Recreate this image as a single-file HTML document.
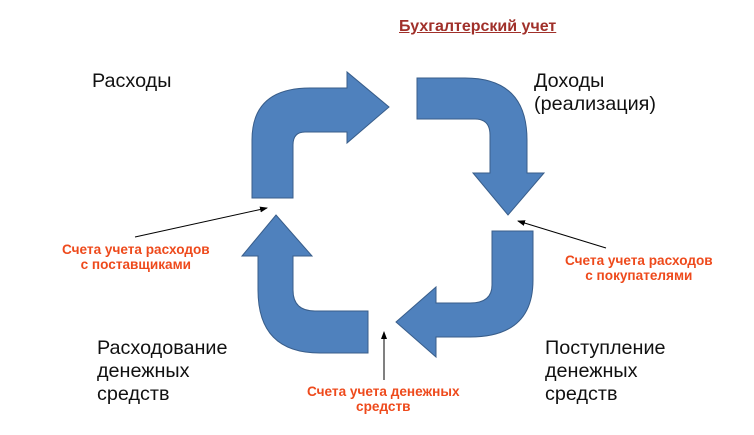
<!DOCTYPE html>
<html><head><meta charset="utf-8"><style>
body{margin:0;background:#fff;width:754px;height:435px;overflow:hidden;font-family:"Liberation Sans",sans-serif}
.t{position:absolute;font-size:19.8px;color:#111;line-height:23px}
.r{position:absolute;color:#ee4a1c;font-weight:bold;font-size:13.6px;line-height:15px;text-align:center;white-space:nowrap}
</style></head><body>
<svg width="754" height="435" style="position:absolute;left:0;top:0">
<defs><marker id="a" markerWidth="8" markerHeight="6" refX="7" refY="3" orient="auto"><path d="M0,0L8,3L0,6Z" fill="#000"/></marker></defs>
<g fill="#4f81bd" stroke="#385d8a" stroke-width="1">
<path d="M252,198 L252,140 Q252,88 310,88 L347,88 L347,72 L389,107 L347,143 L347,132 L305,132 Q293,132 293,145 L293,198 Z"/>
<path d="M417,78 L465,78 Q527,78 527,140 L527,173 L544,173 L508,215 L473,173 L490,173 L490,135 Q490,119 475,119 L417,119 Z"/>
<path d="M492,231 L533,231 L533,280 Q533,337 470,337 L436,337 L436,357 L396,322 L436,287 L436,303 L470,303 Q492,303 492,285 Z"/>
<path d="M276,215 L312,256 L293,256 L293,290 Q293,311 315,311 L368,311 L368,353 L320,353 Q258,353 258,290 L258,256 L242,256 Z"/>
</g>
<g stroke="#000" stroke-width="1" marker-end="url(#a)">
<line x1="135" y1="237" x2="267" y2="208"/>
<line x1="606" y1="248" x2="518" y2="221"/>
<line x1="384" y1="380" x2="384" y2="332"/>
</g>
</svg>
<div style="position:absolute;left:399px;top:18px;font-size:16px;font-weight:bold;color:#a0302a;text-decoration:underline">Бухгалтерский учет</div>
<div class="t" style="left:92px;top:70px">Расходы</div>
<div class="t" style="left:534px;top:70px">Доходы<br>(реализация)</div>
<div class="t" style="left:97px;top:337px">Расходование<br>денежных<br>средств</div>
<div class="t" style="left:545px;top:337px">Поступление<br>денежных<br>средств</div>
<div class="r" style="left:62px;top:242px">Счета учета расходов<br>с поставщиками</div>
<div class="r" style="left:565px;top:253px">Счета учета расходов<br>с покупателями</div>
<div class="r" style="left:307px;top:384px">Счета учета денежных<br>средств</div>
</body></html>
